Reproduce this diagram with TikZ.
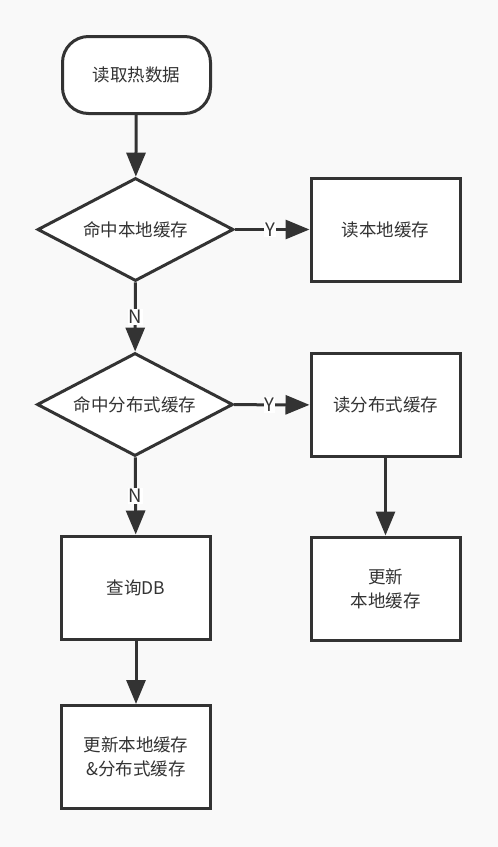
\documentclass[tikz,border=0pt]{standalone}
\usepackage{fontspec}
\setmainfont{Noto Sans CJK SC}
\usetikzlibrary{arrows.meta,shapes.geometric}
\definecolor{bg}{HTML}{F9F9F9}
\definecolor{ink}{HTML}{333333}
\begin{document}
\begin{tikzpicture}[x=1pt,y=-1pt,
  every node/.style={text=ink,font=\fontsize{17.5}{24}\selectfont},
  box/.style={draw=ink,line width=3pt,fill=white,minimum width=149pt,minimum height=103pt,inner sep=0pt,align=center},
  term/.style={box,rounded corners=26pt,minimum width=148pt,minimum height=77pt},
  dec/.style={draw=ink,line width=3pt,fill=white,diamond,aspect=1.9,inner sep=0pt,minimum width=196pt,minimum height=103pt},
  flow/.style={draw=ink,line width=3pt,-{Triangle[length=24pt,width=19pt]}},
  lab/.style={fill=white,inner sep=1pt,font=\fontsize{18.5}{20}\selectfont}]
\fill[bg] (0,0) rectangle (498,847);
\useasboundingbox (0,0) rectangle (498,847);
\node[term] (start) at (136.5,75) {读取热数据};
\node[dec] (d1) at (135.5,229.5) {命中本地缓存};
\node[box] (r1) at (385.5,229.5) {读本地缓存};
\node[dec] (d2) at (135,404.5) {命中分布式缓存};
\node[box] (r2) at (385.5,405) {读分布式缓存};
\node[box] (u1) at (385.5,588.5) {更新\\本地缓存};
\node[box] (db) at (136,587.5) {查询DB};
\node[box] (u2) at (136,757) {更新本地缓存\\\&分布式缓存};
\draw[flow] (start) -- (d1);
\draw[flow] (d1) -- node[lab,pos=0.47]{Y} (r1);
\draw[flow] (d1) -- node[lab,pos=0.5]{N} (d2);
\draw[flow] (d2) -- node[lab,pos=0.47]{Y} (r2);
\draw[flow] (d2) -- node[lab,pos=0.5]{N} (db);
\draw[flow] (r2) -- (u1);
\draw[flow] (db) -- (u2);
\end{tikzpicture}
\end{document}
